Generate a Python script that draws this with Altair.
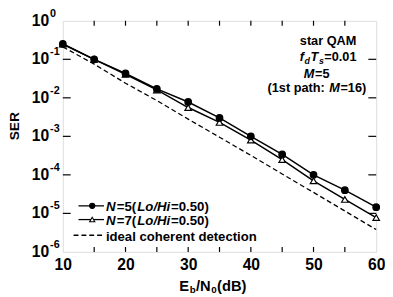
import altair as alt
import pandas as pd

# ---------------- data ----------------
snr_db = [10, 15, 20, 25, 30, 35, 40, 45, 50, 55, 60]
ser_n5 = [0.25, 0.10, 0.043, 0.017, 0.0078, 0.0030, 1.0e-3, 3.4e-4, 1.0e-4, 4.0e-5, 1.45e-5]
ser_n7 = [0.25, 0.10, 0.041, 0.016, 0.0056, 0.0023, 8.0e-4, 2.5e-4, 7.0e-5, 2.3e-5, 7.8e-6]
ser_ideal = [0.21, 0.075, 0.024, 0.0085, 0.0028, 9.5e-4, 3.2e-4, 1.05e-4, 3.5e-5, 1.15e-5, 3.8e-6]

x_tick_values = [10, 20, 30, 40, 50, 60]
x_inner_ticks = [15, 20, 25, 30, 35, 40, 45, 50, 55]
y_tick_values = [1e0, 1e-1, 1e-2, 1e-3, 1e-4, 1e-5, 1e-6]
y_tick_exponents = ["0", "-1", "-2", "-3", "-4", "-5", "-6"]
y_inner_ticks = [1e-1, 1e-2, 1e-3, 1e-4, 1e-5]

y_title = "SER"
x_title_parts = ["E", "b", "/N", "0", "(dB)"]
note_lines = ["star QAM", "f", "d", "T", "s", "=0.01", "M", "=5", "(1st path: ", "M", "=16)"]
legend_n5 = ["N", "=5(", "Lo/Hi", "=0.50)"]
legend_n7 = ["N", "=7(", "Lo/Hi", "=0.50)"]
legend_ideal = "ideal coherent detection"

FONT = "Liberation Sans"
W, H = 320, 236

df5 = pd.DataFrame({"snr": snr_db, "ser": ser_n5})
df7 = pd.DataFrame({"snr": snr_db, "ser": ser_n7})
dfi = pd.DataFrame({"snr": snr_db, "ser": ser_ideal})

xs = alt.Scale(domain=[10, 60], nice=False, zero=False)
ys = alt.Scale(type="log", domain=[1e-6, 1], nice=False)
x_axis = alt.Axis(values=x_tick_values, labelFontSize=16, labelFont=FONT, labelColor="black",
                  labelFontWeight="bold", ticks=False, domain=False, grid=False, title=None,
                  labelPadding=5, labelFlush=False)

X = alt.X("snr:Q", scale=xs, axis=x_axis)
Y = alt.Y("ser:Q", scale=ys, axis=None)


def series(df, shape, fill, dash=None):
    line_kw = dict(color="black", strokeWidth=1.5)
    if dash:
        line_kw["strokeDash"] = dash
        line_kw["strokeWidth"] = 1.3
    layers = [alt.Chart(df).mark_line(**line_kw).encode(x=X, y=Y)]
    if shape:
        layers.append(alt.Chart(df).mark_point(shape=shape, filled=True, fill=fill, stroke="black",
                                               strokeWidth=1.2, size=45, opacity=1).encode(x=X, y=Y))
    return layers


def txt(s, x, y, size=14, italic=False, align="left", angle=0, dy=0):
    kw = dict(font=FONT, fontSize=size, align=align, baseline="middle", color="black",
              fontWeight="bold")
    if italic:
        kw["fontStyle"] = "italic"
    if angle:
        kw["angle"] = angle
    if dy:
        kw["dy"] = dy
    return alt.Chart(pd.DataFrame({"t": [s]})).mark_text(**kw).encode(
        x=alt.value(x), y=alt.value(y), text="t:N")


layers = []

# inner ticks
xt = pd.DataFrame({"snr": x_inner_ticks})
layers.append(alt.Chart(xt).mark_rule(color="black", strokeWidth=1.2).encode(
    x=X, y=alt.value(H), y2=alt.value(H - 5)))
layers.append(alt.Chart(xt).mark_rule(color="black", strokeWidth=1.2).encode(
    x=X, y=alt.value(0), y2=alt.value(5)))
yt = pd.DataFrame({"ser": y_inner_ticks})
layers.append(alt.Chart(yt).mark_rule(color="black", strokeWidth=1.2).encode(
    y=Y, x=alt.value(0), x2=alt.value(8)))
layers.append(alt.Chart(yt).mark_rule(color="black", strokeWidth=1.2).encode(
    y=Y, x=alt.value(W), x2=alt.value(W - 8)))

# y tick labels: 10 with superscript exponent
yl = pd.DataFrame({"ser": y_tick_values, "exp": y_tick_exponents, "base": ["10"] * len(y_tick_values)})
layers.append(alt.Chart(yl).mark_text(font=FONT, fontSize=16, fontWeight="bold", align="right",
                                      baseline="middle", color="black").encode(
    x=alt.value(-14), y=Y, text="base:N"))
layers.append(alt.Chart(yl).mark_text(font=FONT, fontSize=11, fontWeight="bold", align="left",
                                      baseline="middle", dy=-7, color="black").encode(
    x=alt.value(-13), y=Y, text="exp:N"))

# data series
layers += series(dfi, None, None, dash=[5, 3])
layers += series(df7, "triangle-up", "white")
layers += series(df5, "circle", "black")

# axis titles
layers.append(txt(y_title, -49, 122, size=14, angle=270))
xp = x_title_parts
TY = 271
layers += [txt(xp[0], 119, TY, 15), txt(xp[1], 129.5, TY, 10, dy=4), txt(xp[2], 136, TY, 15),
           txt(xp[3], 151.5, TY, 10, dy=4), txt(xp[4], 157.5, TY, 15)]

# annotation
n = note_lines
layers += [txt(n[0], 242, 21, 13),
           txt(n[1], 242, 37, 13, italic=True), txt(n[2], 246.8, 37, 9, italic=True, dy=4),
           txt(n[3], 253, 37, 13, italic=True), txt(n[4], 261.5, 37, 9, italic=True, dy=4),
           txt(n[5], 267, 37, 13),
           txt(n[6], 246, 54, 13, italic=True), txt(n[7], 257.5, 54, 13),
           txt(n[8], 209, 69, 13), txt(n[9], 272, 69, 13, italic=True), txt(n[10], 283.5, 69, 13)]

# legend
for row_y, parts, shape, fill in [(189, legend_n5, "circle", "black"), (203, legend_n7, "triangle-up", "white")]:
    layers.append(alt.Chart(pd.DataFrame({"a": [0]})).mark_rule(color="black", strokeWidth=1.3).encode(
        x=alt.value(16), x2=alt.value(42), y=alt.value(row_y)))
    layers.append(alt.Chart(pd.DataFrame({"a": [0]})).mark_point(
        shape=shape, filled=True, fill=fill, stroke="black", strokeWidth=1.1, size=28, opacity=1).encode(
        x=alt.value(30), y=alt.value(row_y)))
    layers += [txt(parts[0], 44, row_y + 1.5, 13.5, italic=True), txt(parts[1], 55, row_y + 1.5, 13.5),
               txt(parts[2], 76, row_y + 1.5, 13.5, italic=True), txt(parts[3], 110.5, row_y + 1.5, 13.5)]
layers.append(alt.Chart(pd.DataFrame({"a": [0]})).mark_rule(color="black", strokeWidth=1.3,
                                                            strokeDash=[5, 3]).encode(
    x=alt.value(11), x2=alt.value(42), y=alt.value(219)))
layers.append(txt(legend_ideal, 44, 221, 13.4))

chart = alt.layer(*layers).properties(
    width=W, height=H,
    autosize=alt.AutoSizeParams(type="none"),
    padding={"left": 56, "top": 10, "right": 9, "bottom": 43},
).configure_view(stroke="black", strokeWidth=1.6).configure(background="white")

chart.save("out.html", embed_options={"renderer": "svg", "actions": False})
